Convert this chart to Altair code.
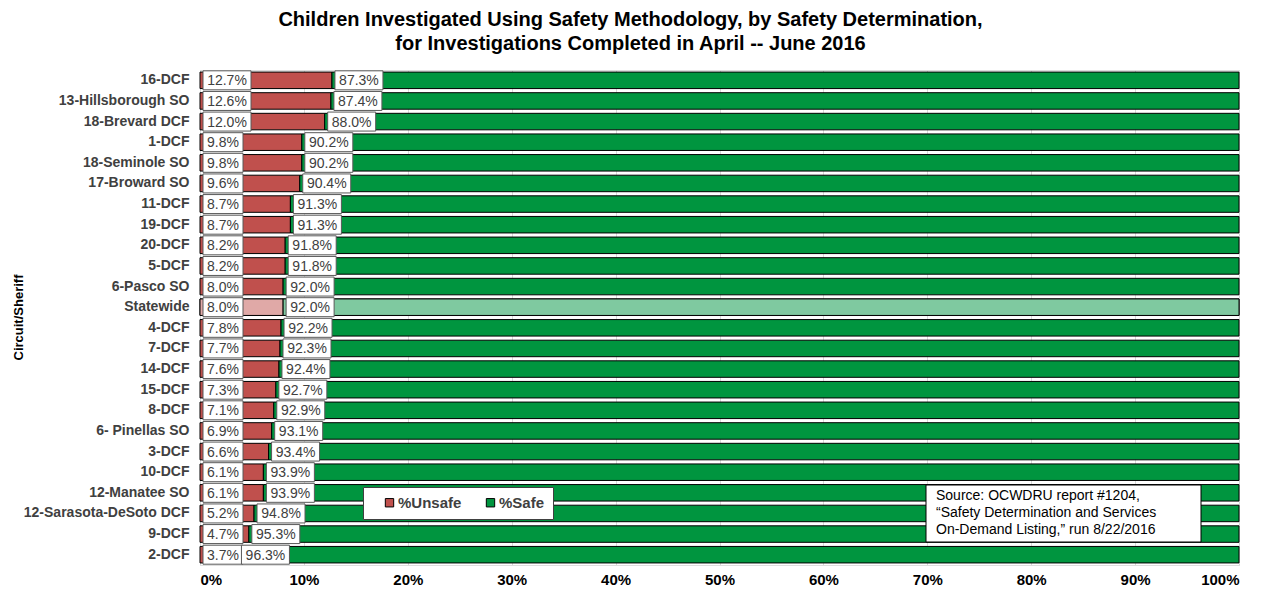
import altair as alt
import pandas as pd

regions = ["16-DCF", "13-Hillsborough SO", "18-Brevard DCF", "1-DCF", "18-Seminole SO",
           "17-Broward SO", "11-DCF", "19-DCF", "20-DCF", "5-DCF", "6-Pasco SO", "Statewide",
           "4-DCF", "7-DCF", "14-DCF", "15-DCF", "8-DCF", "6- Pinellas SO", "3-DCF", "10-DCF",
           "12-Manatee SO", "12-Sarasota-DeSoto DCF", "9-DCF", "2-DCF"]
unsafe_pct = [12.7, 12.6, 12.0, 9.8, 9.8, 9.6, 8.7, 8.7, 8.2, 8.2, 8.0, 8.0,
              7.8, 7.7, 7.6, 7.3, 7.1, 6.9, 6.6, 6.1, 6.1, 5.2, 4.7, 3.7]
safe_pct = [87.3, 87.4, 88.0, 90.2, 90.2, 90.4, 91.3, 91.3, 91.8, 91.8, 92.0, 92.0,
            92.2, 92.3, 92.4, 92.7, 92.9, 93.1, 93.4, 93.9, 93.9, 94.8, 95.3, 96.3]
segments = ["%Unsafe", "%Safe"]
source_lines = ["Source: OCWDRU report #1204,",
                "\u201cSafety Determination and Services",
                "On-Demand Listing,\u201d run 8/22/2016"]
title_lines = ["Children Investigated Using Safety Methodology, by Safety Determination,",
               "for Investigations Completed in April -- June 2016"]

RED = "#C0504D"
GREEN = "#00953F"
LRED = "#E0A9A7"
LGREEN = "#7FC9A0"
FONT = "Liberation Sans"

seg_rows = []
for r, u, s in zip(regions, unsafe_pct, safe_pct):
    seg_rows.append({"region": r, "segment": "%Unsafe", "start": 0.0, "end": u})
    seg_rows.append({"region": r, "segment": "%Safe", "start": u, "end": u + s})
seg_df = pd.DataFrame(seg_rows)

lab_df = pd.DataFrame({"region": regions, "unsafe": unsafe_pct, "safe": safe_pct})
lab_df["zero"] = 0.0
lab_df["ulab"] = [f"{v:.1f}%" for v in unsafe_pct]
lab_df["slab"] = [f"{v:.1f}%" for v in safe_pct]
lab_df["ulen"] = lab_df["ulab"].str.len()

xscale = alt.Scale(domain=[0, 100], nice=False, zero=True)
xaxis = alt.Axis(values=list(range(0, 101, 10)), labelExpr="datum.value + '%'",
                 title=None, grid=True, gridColor="#D9D9D9", domain=False, ticks=False,
                 labelFont=FONT, labelFontSize=15, labelFontWeight="bold", labelColor="#000000",
                 labelPadding=7)
yscale = alt.Scale(paddingInner=0.2, paddingOuter=0.1)
yaxis = alt.Axis(title="Circuit/Sheriff", domain=False, ticks=False, grid=False,
                 labelFont=FONT, labelFontSize=14, labelFontWeight="bold", labelColor="#404040",
                 labelPadding=11, titleFont=FONT, titleFontSize=13, titleFontWeight="bold",
                 titleColor="#000000", titleX=-182, titleY=247, titleAngle=-90,
                 titleAlign="center", titleBaseline="middle")


def X(field):
    return alt.X(field, type="quantitative", scale=xscale, axis=xaxis)


Y = alt.Y("region:N", sort=regions, scale=yscale, axis=yaxis)

bars = alt.Chart(seg_df).mark_bar(stroke="#000000", strokeWidth=1).encode(
    x=X("start"), x2="end", y=Y,
    color=alt.Color("segment:N", scale=alt.Scale(domain=segments, range=[RED, GREEN]),
                    legend=alt.Legend(title=None, orient="none", legendX=163, legendY=417,
                                      direction="horizontal", fillColor="#FFFFFF",
                                      strokeColor="#404040", padding=8,
                                      symbolType="square", symbolSize=70, symbolOffset=11,
                                      symbolStrokeColor="#000000", symbolStrokeWidth=1,
                                      symbolOpacity=1, labelFont=FONT, labelFontSize=15,
                                      labelFontWeight="bold", labelColor="#404040",
                                      columnPadding=10, labelOffset=1)),
)

state = alt.Chart(seg_df).transform_filter("datum.region == 'Statewide'").mark_bar(
    stroke="#000000", strokeWidth=1).encode(
    x=X("start"), x2="end", y=Y,
    color=alt.condition("datum.segment == '%Unsafe'", alt.value(LRED), alt.value(LGREEN)),
)

box_style = dict(fill="#FFFFFF", stroke="#595959", strokeWidth=1, size=19)
text_style = dict(font=FONT, fontSize=14, color="#404040", align="center", baseline="middle", dy=1)

ubox5 = alt.Chart(lab_df).transform_filter("datum.ulen == 5").mark_bar(
    xOffset=3, x2Offset=51, **box_style).encode(x=X("zero"), x2="zero", y=Y)
ubox4 = alt.Chart(lab_df).transform_filter("datum.ulen == 4").mark_bar(
    xOffset=3, x2Offset=43, **box_style).encode(x=X("zero"), x2="zero", y=Y)
utxt5 = alt.Chart(lab_df).transform_filter("datum.ulen == 5").mark_text(
    xOffset=27, **text_style).encode(x=X("zero"), y=Y, text="ulab:N")
utxt4 = alt.Chart(lab_df).transform_filter("datum.ulen == 4").mark_text(
    xOffset=23, **text_style).encode(x=X("zero"), y=Y, text="ulab:N")
sbox = alt.Chart(lab_df).mark_bar(xOffset=3, x2Offset=51, **box_style).encode(
    x=X("unsafe"), x2="unsafe", y=Y)
stxt = alt.Chart(lab_df).mark_text(xOffset=27, **text_style).encode(
    x=X("unsafe"), y=Y, text="slab:N")

src_df = pd.DataFrame({"txt": ["\n".join(source_lines)]})
src_box = alt.Chart(src_df).mark_rect(
    fill="#FFFFFF", stroke="#000000", strokeWidth=1).encode(
    x=alt.value(726), x2=alt.value(1001), y=alt.value(415), y2=alt.value(472))
src_txt = alt.Chart(src_df).mark_text(font=FONT, fontSize=14, color="#000000",
                                       align="left", baseline="top", lineBreak="\n",
                                       lineHeight=17).encode(
    x=alt.value(736), y=alt.value(419), text="txt:N")

chart = alt.layer(bars, state, ubox5, ubox4, sbox, utxt5, utxt4, stxt, src_box, src_txt).properties(
    width=1039, height=495,
    title=alt.TitleParams(text=title_lines, font=FONT, fontSize=20, fontWeight="bold",
                          color="#000000", anchor="middle", dx=-89, offset=16, lineHeight=24),
    autosize=alt.AutoSizeParams(type="none"),
    padding={"left": 192, "top": 62, "right": 20, "bottom": 23},
).configure_view(stroke=None).configure(background="#FFFFFF")

chart.save("out.html", embed_options={"renderer": "svg", "actions": False})
